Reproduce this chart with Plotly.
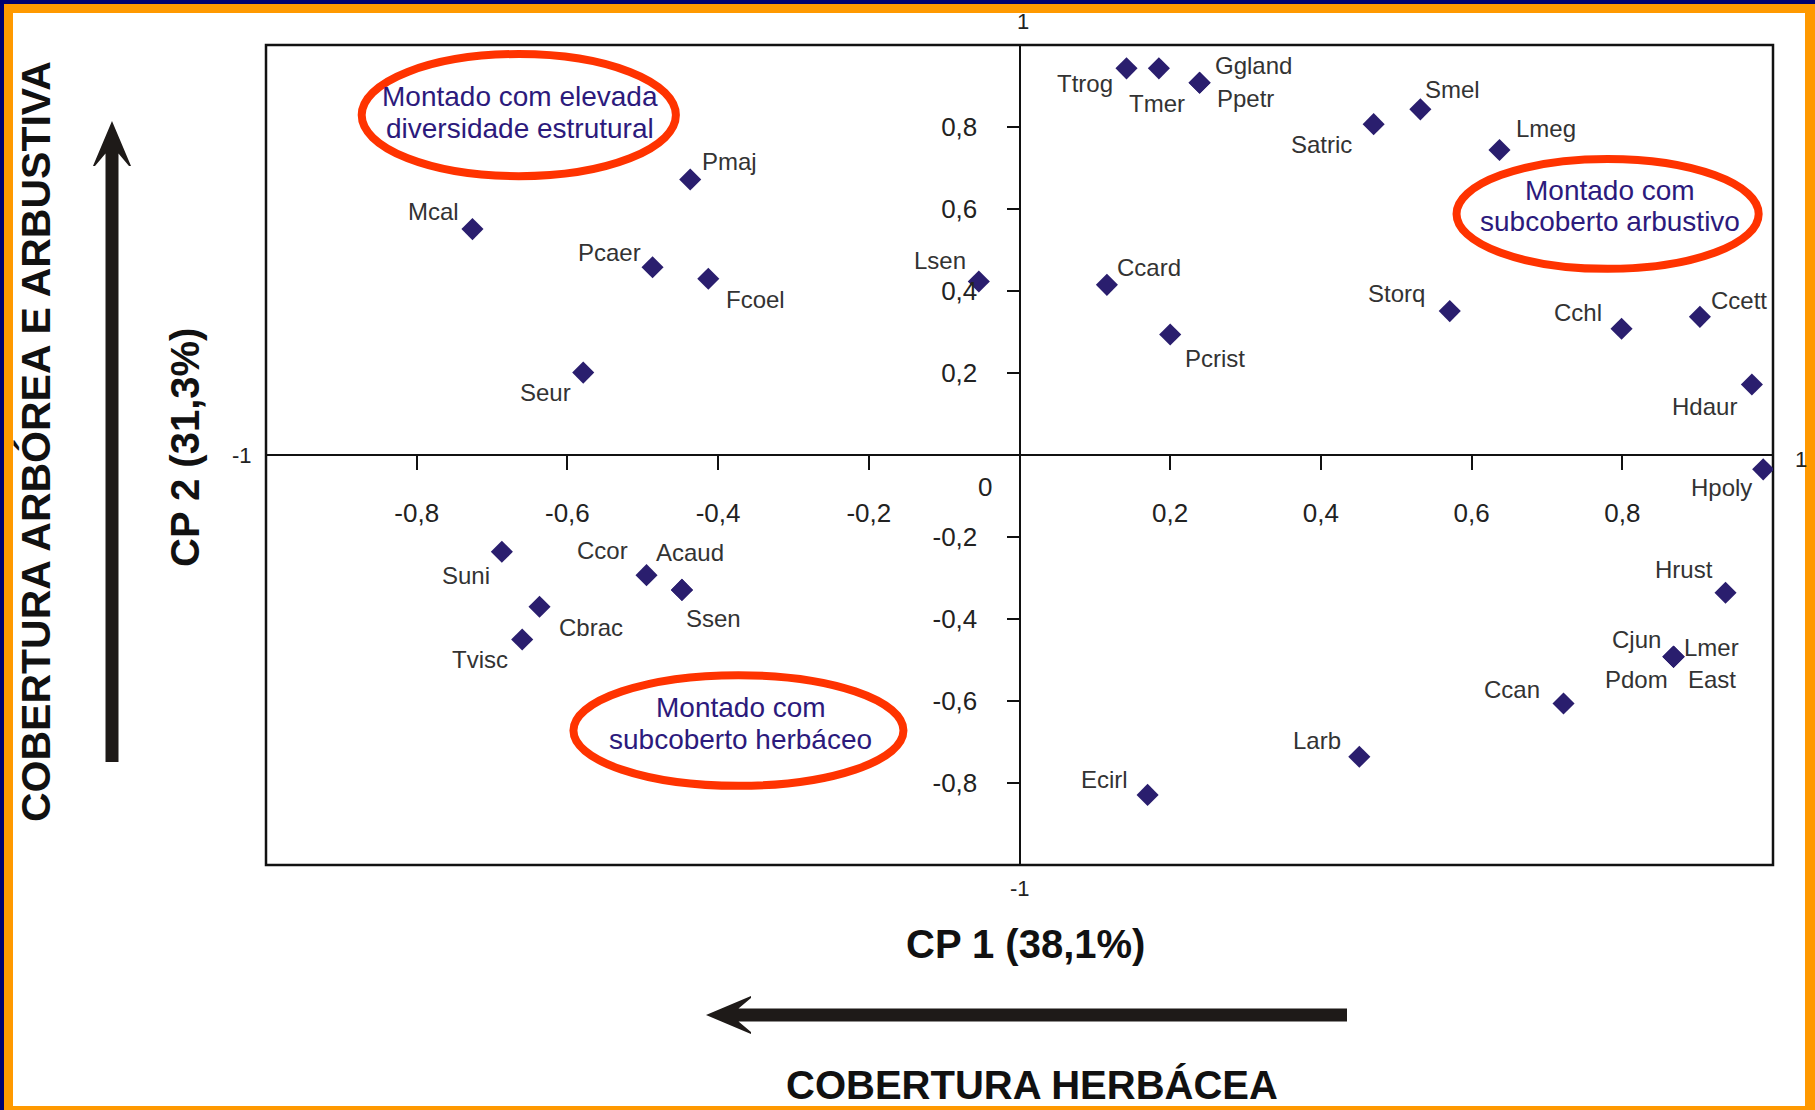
import plotly.graph_objects as go

# ---------------- data ----------------
species = ["Ttrog", "Tmer", "Ggland", "Ppetr", "Smel", "Satric", "Lmeg",
           "Pmaj", "Mcal", "Pcaer", "Fcoel", "Lsen", "Ccard", "Pcrist",
           "Storq", "Cchl", "Ccett", "Hdaur", "Seur", "Hpoly", "Suni",
           "Ccor", "Acaud", "Ssen", "Cbrac", "Tvisc", "Hrust", "Cjun",
           "Lmer", "Pdom", "East", "Ccan", "Larb", "Ecirl"]
cp1 = [0.142, 0.185, 0.239, 0.239, 0.532, 0.470, 0.637,
       -0.437, -0.726, -0.487, -0.413, -0.054, 0.116, 0.200,
       0.571, 0.799, 0.903, 0.972, -0.579, 0.987, -0.687,
       -0.495, -0.448, -0.448, -0.637, -0.660, 0.937, 0.868,
       0.868, 0.868, 0.868, 0.722, 0.451, 0.170]
cp2 = [0.943, 0.943, 0.908, 0.908, 0.843, 0.807, 0.744,
       0.672, 0.551, 0.458, 0.430, 0.423, 0.415, 0.294,
       0.351, 0.308, 0.337, 0.172, 0.201, -0.035, -0.236,
       -0.293, -0.329, -0.329, -0.370, -0.450, -0.336, -0.492,
       -0.492, -0.492, -0.492, -0.606, -0.736, -0.829]

tick_vals = [-0.8, -0.6, -0.4, -0.2, 0.2, 0.4, 0.6, 0.8]
tick_text = ["-0,8", "-0,6", "-0,4", "-0,2", "0,2", "0,4", "0,6", "0,8"]
ytick_text = ["-0,8", "-0,6", "-0,4", "-0,2", "0,2", "0,4", "0,6", "0,8"]

x_title = "CP 1 (38,1%)"
y_title = "CP 2 (31,3%)"
x_theme = "COBERTURA HERBÁCEA"
y_theme = "COBERTURA ARBÓREA E ARBUSTIVA"

groups = [
    ["Montado com elevada", "diversidade estrutural"],
    ["Montado com", "subcoberto arbustivo"],
    ["Montado com", "subcoberto herbáceo"],
]

# ---------------- layout / style ----------------
W, H = 1815, 1110
ML, MR, MT, MB = 266, 42, 45, 245
PW, PH = W - ML - MR, H - MT - MB

def pxx(x):
    return (x - ML) / PW

def pxy(y):
    return (MT + PH - y) / PH

# label offsets in px (dx right, dy up)
label_off = {
    "Ttrog": (-42, -15), "Tmer": (-2, -35), "Ggland": (54, 17), "Ppetr": (46, -16),
    "Smel": (32, 20), "Satric": (-52, -20), "Lmeg": (47, 21), "Pmaj": (39, 18),
    "Mcal": (-39, 18), "Pcaer": (-43, 15), "Fcoel": (47, -21), "Lsen": (-39, 21),
    "Ccard": (42, 17), "Pcrist": (45, -24), "Storq": (-53, 18), "Cchl": (-44, 16),
    "Ccett": (39, 16), "Hdaur": (-47, -22), "Seur": (-38, -20), "Hpoly": (-42, -18),
    "Suni": (-36, -24), "Ccor": (-44, 25), "Acaud": (8, 37), "Ssen": (32, -29),
    "Cbrac": (51, -21), "Tvisc": (-42, -20), "Hrust": (-42, 23), "Cjun": (-37, 17),
    "Lmer": (38, 9), "Pdom": (-37, -23), "East": (38, -23), "Ccan": (-52, 14),
    "Larb": (-42, 16), "Ecirl": (-43, 15),
}

MARKER = "#2a1e6e"
NAVY_TXT = "#2c1a7c"
RED = "#ff3300"
LBL = "#333333"
FONT = "Liberation Sans, Arial, sans-serif"

fig = go.Figure()
fig.add_trace(go.Scatter(
    x=cp1, y=cp2, mode="markers",
    marker=dict(symbol="diamond", size=17, color=MARKER, line=dict(width=0)),
    hoverinfo="text", text=species, showlegend=False,
))

annotations = []
for name, xv, yv in zip(species, cp1, cp2):
    dx, dy = label_off[name]
    annotations.append(dict(x=xv, y=yv, xref="x", yref="y", text=name,
                            showarrow=False, xshift=dx, yshift=dy,
                            xanchor="center", yanchor="middle",
                            font=dict(family=FONT, size=24, color=LBL)))

# group ellipses (data coordinates) and their texts
ellipses = [(-0.873, -0.456, 0.680, 0.978),
            (0.580, 0.981, 0.454, 0.722),
            (-0.592, -0.154, -0.807, -0.537)]
text_pos = [(-0.6635, 0.8756, 0.7963),
            (0.7838, 0.6463, 0.5707),
            (-0.370, -0.617, -0.695)]
shapes = []
# outer frame: orange band with navy edge, white page
shapes.append(dict(type="rect", xref="paper", yref="paper", layer="below",
                   x0=pxx(4), x1=pxx(1830), y0=pxy(1130), y1=pxy(4),
                   fillcolor="#ff9900", line=dict(width=0)))
shapes.append(dict(type="rect", xref="paper", yref="paper", layer="below",
                   x0=pxx(13), x1=pxx(1805), y0=pxy(1106), y1=pxy(13),
                   fillcolor="white", line=dict(width=0)))
# plot box
shapes.append(dict(type="rect", xref="paper", yref="paper", layer="below",
                   x0=0, x1=1, y0=0, y1=1, line=dict(color="#111", width=2.5)))

for (x0, x1, y0, y1), (tx, ty1, ty2), lines in zip(ellipses, text_pos, groups):
    shapes.append(dict(type="circle", xref="x", yref="y", x0=x0, x1=x1, y0=y0, y1=y1,
                       line=dict(color=RED, width=8), layer="above"))
    for ty, t in zip((ty1, ty2), lines):
        annotations.append(dict(x=tx, y=ty, xref="x", yref="y", text=t, showarrow=False,
                                xanchor="center", yanchor="middle",
                                font=dict(family=FONT, size=28, color=NAVY_TXT)))

# arrows (pixel geometry converted to paper coords)
def arrow_h(tipx, cy, endx, sw=6.5, hh=19, L=45, t=2):
    n = L - (hh - sw)
    pts = [(tipx, cy), (tipx + L, cy - hh), (tipx + L, cy - hh + t), (tipx + n, cy - sw),
           (endx, cy - sw), (endx, cy + sw), (tipx + n, cy + sw), (tipx + L, cy + hh - t),
           (tipx + L, cy + hh)]
    return "M" + " L".join(f"{pxx(a):.5f},{pxy(b):.5f}" for a, b in pts) + " Z"

def arrow_v(cx, tipy, endy, sw=6.5, hh=19, L=45, t=2):
    n = L - (hh - sw)
    pts = [(cx, tipy), (cx + hh, tipy + L), (cx + hh - t, tipy + L), (cx + sw, tipy + n),
           (cx + sw, endy), (cx - sw, endy), (cx - sw, tipy + n), (cx - hh + t, tipy + L),
           (cx - hh, tipy + L)]
    return "M" + " L".join(f"{pxx(a):.5f},{pxy(b):.5f}" for a, b in pts) + " Z"

shapes.append(dict(type="path", xref="paper", yref="paper", path=arrow_h(706, 1015, 1347),
                   fillcolor="#1e1a18", line=dict(width=0)))
shapes.append(dict(type="path", xref="paper", yref="paper", path=arrow_v(112, 121, 762),
                   fillcolor="#1e1a18", line=dict(width=0)))

# axis-end labels and origin label
small = dict(family=FONT, size=22, color="#222")
C = dict(showarrow=False, xanchor="center", yanchor="middle")
annotations += [
    dict(x=0, y=pxy(22), xref="x", yref="paper", text="1", font=small, xshift=3, **C),
    dict(x=0, y=pxy(888), xref="x", yref="paper", text="-1", font=small, **C),
    dict(x=pxx(242), y=0, xref="paper", yref="y", text="-1", font=small, **C),
    dict(x=pxx(1801), y=0, xref="paper", yref="y", text="1", font=small, yshift=-4, **C),
    dict(x=0, y=0, xref="x", yref="y", text="0", xshift=-35, yshift=-32,
         font=dict(family=FONT, size=26, color="#222"), **C),
]

bold = dict(family="Liberation Sans, Arial, sans-serif", size=40, color="#111")
annotations += [
    dict(x=pxx(1025), y=pxy(944), xref="paper", yref="paper", text="<b>%s</b>" % x_title,
         font=bold, **C),
    dict(x=pxx(1032), y=pxy(1085), xref="paper", yref="paper", text="<b>%s</b>" % x_theme,
         font=bold, **C),
    dict(x=pxx(185), y=pxy(448), xref="paper", yref="paper", text="<b>%s</b>" % y_title,
         font=bold, textangle=-90, **C),
    dict(x=pxx(36), y=pxy(442), xref="paper", yref="paper", text="<b>%s</b>" % y_theme,
         font=dict(family="Liberation Sans, Arial, sans-serif", size=41, color="#111"),
         textangle=-90, **C),
]

tickfont = dict(family=FONT, size=26, color="#222")
fig.update_layout(
    width=W, height=H,
    margin=dict(l=ML, r=MR, t=MT, b=MB, pad=0),
    paper_bgcolor="#000070", plot_bgcolor="rgba(0,0,0,0)",
    shapes=shapes, annotations=annotations,
    xaxis=dict(range=[-1, 1], anchor="free", position=0.5, showgrid=False, zeroline=False,
               showline=True, linecolor="#111", linewidth=2, ticks="outside", ticklen=14,
               tickwidth=2, tickcolor="#111", tickvals=tick_vals, ticktext=tick_text,
               tickfont=tickfont, ticklabelstandoff=21, fixedrange=True),
    yaxis=dict(range=[-1, 1], anchor="free", position=0.5, showgrid=False, zeroline=False,
               showline=True, linecolor="#111", linewidth=2, ticks="outside", ticklen=12,
               tickwidth=2, tickcolor="#111", tickvals=tick_vals, ticktext=ytick_text,
               tickfont=tickfont, ticklabelstandoff=24, fixedrange=True),
    showlegend=False,
)

fig.write_html("out.html", config={"displayModeBar": False},
               post_script="document.body.style.margin='0';")
